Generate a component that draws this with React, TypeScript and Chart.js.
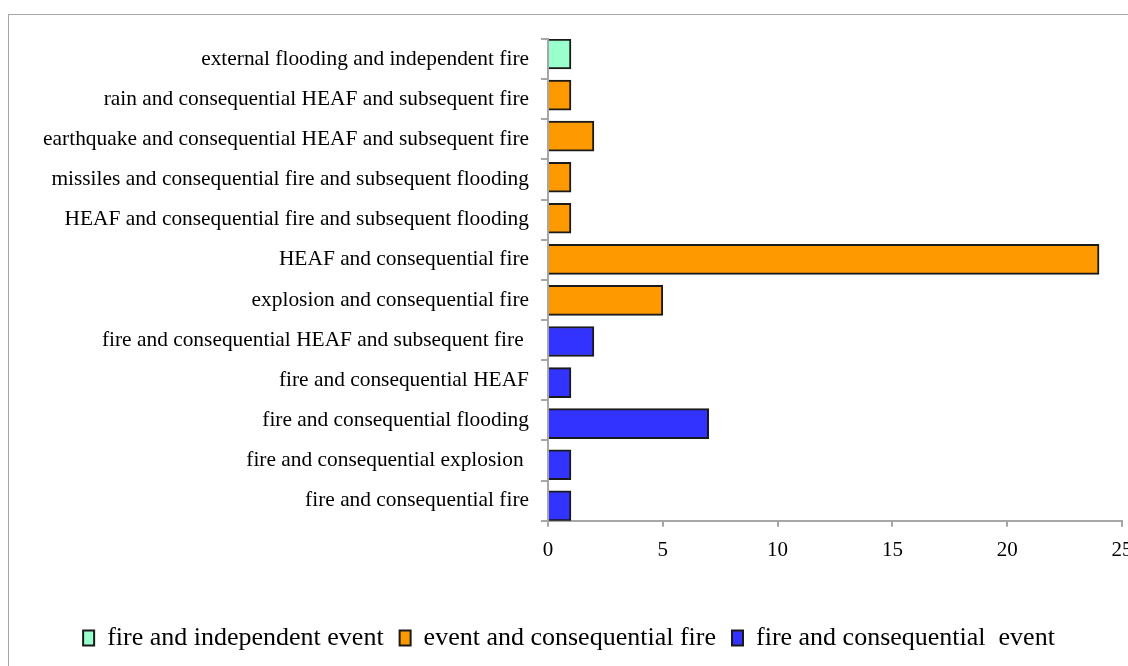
import React, { useEffect, useRef } from "react";
import { Chart, registerables } from "chart.js";

Chart.register(...registerables);

// Event combinations, top to bottom
const categories: string[] = [
  "external flooding and independent fire",
  "rain and consequential HEAF and subsequent fire",
  "earthquake and consequential HEAF and subsequent fire",
  "missiles and consequential fire and subsequent flooding",
  "HEAF and consequential fire and subsequent flooding",
  "HEAF and consequential fire",
  "explosion and consequential fire",
  "fire and consequential HEAF and subsequent fire ",
  "fire and consequential HEAF",
  "fire and consequential flooding",
  "fire and consequential explosion ",
  "fire and consequential fire",
];

// Counts per group (null where the category belongs to another group)
const independentEvent: (number | null)[] = [1, null, null, null, null, null, null, null, null, null, null, null];
const eventThenFire: (number | null)[] = [null, 1, 2, 1, 1, 24, 5, null, null, null, null, null];
const fireThenEvent: (number | null)[] = [null, null, null, null, null, null, null, 2, 1, 7, 1, 1];

const seriesNames: string[] = [
  "fire and independent event",
  "event and consequential fire",
  "fire and consequential  event",
];

const xTicks = { min: 0, max: 25, step: 5 };

const SERIF = "'Liberation Serif', 'Times New Roman', serif";

// Bars sit on a hidden linear row axis (row index 0 = top) so the first bar
// meets the top of the axis and the last one rests on the value axis.
const toRows = (values: (number | null)[]) =>
  values
    .map((v, i) => (v == null ? null : { x: v, y: i }))
    .filter((p): p is { x: number; y: number } => p !== null);

const ROW_MARGIN = 0.365;

export default function App() {
  const canvasRef = useRef<HTMLCanvasElement | null>(null);

  useEffect(() => {
    const canvas = canvasRef.current;
    if (!canvas) return;
    const barStyle = {
      yAxisID: "rows",
      borderColor: "#1a1a1a",
      borderWidth: 2,
      barThickness: 30,
    };
    const chart = new Chart(canvas, {
      type: "bar",
      data: {
        labels: categories,
        datasets: [
          {
            ...barStyle,
            label: seriesNames[0],
            data: toRows(independentEvent) as any,
            backgroundColor: "#99FFCC",
          },
          {
            ...barStyle,
            label: seriesNames[1],
            data: toRows(eventThenFire) as any,
            backgroundColor: "#FF9900",
          },
          {
            ...barStyle,
            label: seriesNames[2],
            data: toRows(fireThenEvent) as any,
            backgroundColor: "#3333FF",
          },
        ],
      },
      options: {
        indexAxis: "y",
        responsive: false,
        animation: false,
        layout: {
          padding: { top: 39, right: 28, bottom: 5, left: 16 },
        },
        scales: {
          x: {
            type: "linear",
            stacked: true,
            min: xTicks.min,
            max: xTicks.max,
            afterFit: (scale: any) => {
              scale.height += 35;
            },
            ticks: {
              stepSize: xTicks.step,
              color: "#000",
              font: { family: SERIF, size: 21 },
              padding: 11,
            },
            grid: {
              drawOnChartArea: false,
              drawTicks: true,
              tickLength: 6,
              color: "#a6a6a6",
              lineWidth: 2,
            },
            border: { color: "#a6a6a6", width: 2 },
          },
          y: {
            type: "category",
            offset: true,
            afterFit: (scale: any) => {
              scale.width = 532;
            },
            ticks: {
              color: "#000",
              font: { family: SERIF, size: 21.4 },
              padding: 12,
              autoSkip: false,
            },
            grid: {
              offset: true,
              drawOnChartArea: false,
              drawTicks: true,
              tickLength: 7,
              color: "#a6a6a6",
              lineWidth: 2,
            },
            border: { color: "#a6a6a6", width: 2 },
          },
          rows: {
            type: "linear",
            axis: "y",
            display: false,
            stacked: true,
            offset: false,
            reverse: true,
            min: -ROW_MARGIN,
            max: categories.length - 1 + ROW_MARGIN,
          },
        },
        plugins: {
          legend: {
            position: "bottom",
            labels: {
              color: "#000",
              font: { family: SERIF, size: 26 },
              boxWidth: 11,
              boxHeight: 15,
              padding: 16,
            },
          },
          tooltip: { enabled: false },
        },
      },
    });
    return () => chart.destroy();
  }, []);

  return (
    <div
      style={{
        position: "fixed",
        left: 0,
        top: 0,
        width: 1128,
        height: 666,
        overflow: "hidden",
        background: "#fff",
      }}
    >
      <div
        style={{
          position: "absolute",
          left: 8,
          top: 14,
          width: 1200,
          height: 800,
          border: "1px solid #a6a6a6",
        }}
      />
      <canvas
        ref={canvasRef}
        width={1150}
        height={666}
        style={{ position: "absolute", left: 0, top: 0 }}
      />
    </div>
  );
}
